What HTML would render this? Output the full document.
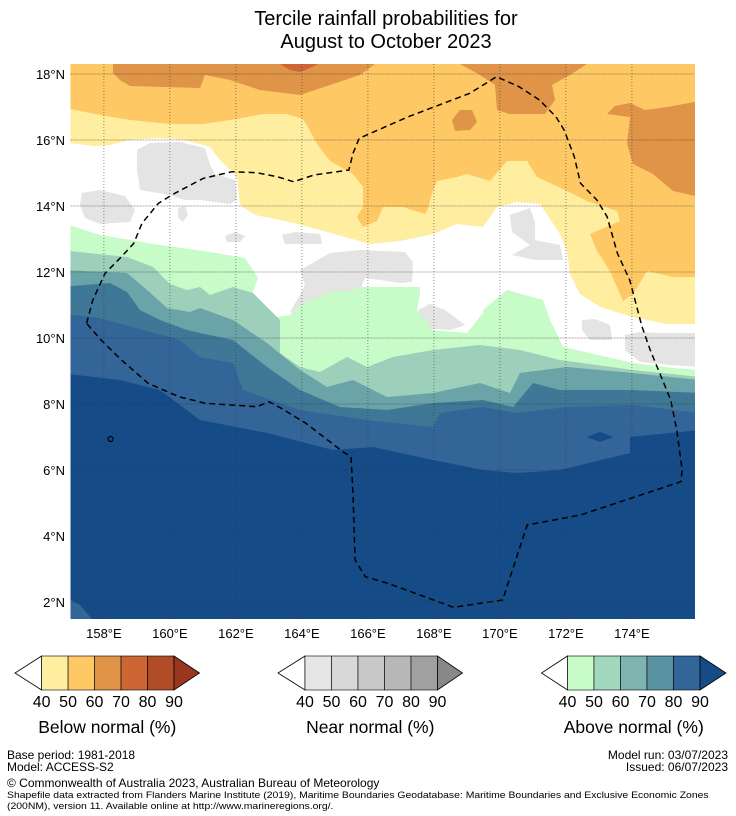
<!DOCTYPE html>
<html><head><meta charset="utf-8">
<style>
body{margin:0;background:#fff;font-family:"Liberation Sans",sans-serif;}
#wrap{position:relative;width:736px;height:816px;overflow:hidden;background:#fff;}
.t{position:absolute;white-space:nowrap;color:#000;}
</style></head>
<body>
<div id="wrap">
<div class="t" style="left:0;width:772px;text-align:center;top:8px;font-size:20px;line-height:23px;">Tercile rainfall probabilities for<br>August to October 2023</div>
<svg id="map" width="736" height="816" style="position:absolute;left:0;top:0">
<defs><clipPath id="clip"><rect x="70.5" y="64" width="624.5" height="555"/></clipPath></defs>
<g id="layers" clip-path="url(#clip)"></g>
<g id="grid"></g>
<g id="labels" font-family="Liberation Sans, sans-serif" font-size="13" fill="#000"></g>
<g id="cbars" font-family="Liberation Sans, sans-serif"></g>
</svg>
<div class="t" style="left:7px;top:748px;font-size:12px;">Base period: 1981-2018</div>
<div class="t" style="left:7px;top:760px;font-size:12px;">Model: ACCESS-S2</div>
<div class="t" style="right:8px;top:748px;font-size:12px;text-align:right;">Model run: 03/07/2023</div>
<div class="t" style="right:8px;top:760px;font-size:12px;text-align:right;">Issued: 06/07/2023</div>
<div class="t" style="left:7px;top:776px;font-size:12px;">© Commonwealth of Australia 2023, Australian Bureau of Meteorology</div>
<div class="t" style="left:7px;top:790px;font-size:9.4px;line-height:10.5px;transform:scaleX(1.11);transform-origin:0 0;">Shapefile data extracted from Flanders Marine Institute (2019), Maritime Boundaries Geodatabase: Maritime Boundaries and Exclusive Economic Zones<br>(200NM), version 11. Available online at http://www.marineregions.org/.</div>
</div>
<script>
// contour band boundaries, map pixel units
const orangeTop=[[113,64],[113,73],[120,80],[130,86],[200,88],[205,75],[230,80],[260,90],[300,95],[330,85],[360,75],[375,64]];
const redTop=[[280,64],[290,70],[300,72],[310,68],[318,64]];
const orangeTR=[[460,64],[480,75],[495,85],[497,110],[510,114],[545,114],[555,100],[552,85],[570,75],[587,64]];
const orangeC=[[452,120],[460,110],[472,110],[477,122],[470,130],[455,131]];
const orangeR=[[607,114],[615,106],[630,103],[645,110],[667,107],[700,101],[700,197],[673,191],[653,174],[633,164],[627,144],[630,117]];
const yellowLine=[[60,107],[100,115],[130,120],[170,124],[203,124],[237,119],[263,114],[287,114],[303,119],[310,131],[317,144],[330,161],[353,174],[363,187],[363,207],[357,217],[363,227],[377,221],[383,207],[403,207],[425,214],[427,211],[433,191],[437,181],[457,177],[467,174],[490,181],[507,161],[527,161],[537,177],[567,191],[587,201],[617,211],[620,221],[590,234],[597,251],[610,271],[623,301],[633,294],[647,271],[673,277],[700,277]];
const whiteLine=[[60,142],[95,146],[110,145],[130,140],[160,138],[185,140],[210,147],[220,160],[235,175],[238,190],[240,205],[255,215],[290,222],[320,230],[345,237],[370,244],[400,241],[433,234],[457,224],[483,227],[497,207],[517,202],[540,204],[560,234],[567,251],[570,274],[580,294],[600,307],[633,317],[667,324],[700,324]];
const greenLine=[[60,222],[100,235],[160,245],[210,252],[245,258],[258,278],[250,300],[270,318],[290,315],[300,305],[330,292],[355,290],[360,287],[420,287],[420,293],[417,310],[433,330],[467,333],[483,313],[483,310],[507,290],[543,300],[550,320],[563,347],[633,363],[673,368],[700,370]];
const teal1Line=[[60,250],[127,257],[153,267],[170,284],[187,290],[200,287],[210,295],[233,287],[253,293],[280,320],[280,353],[300,367],[320,372],[347,357],[367,367],[393,357],[433,350],[480,345],[520,350],[560,360],[633,370],[700,377]];
const teal2Line=[[60,270],[127,273],[147,290],[167,308],[190,312],[200,308],[233,320],[267,343],[300,370],[327,387],[353,380],[387,397],[433,393],[480,383],[510,393],[520,373],[567,367],[633,373],[700,380]];
const blue1Line=[[60,287],[110,283],[127,292],[140,310],[160,320],[187,330],[200,333],[233,340],[267,367],[300,390],[340,407],[387,410],[433,403],[483,400],[513,407],[533,383],[560,390],[633,390],[700,393]];
const blue2Line=[[60,313],[100,318],[143,330],[180,340],[200,357],[233,363],[243,390],[300,410],[367,420],[433,427],[440,413],[483,407],[517,413],[567,407],[633,405],[700,413]];
const darkLine=[[60,373],[120,380],[160,390],[200,420],[267,433],[333,450],[373,447],[433,460],[483,470],[517,473],[560,470],[630,453],[630,437],[700,430]];
const grays=[
 [[82,193],[100,190],[125,196],[135,210],[130,222],[100,224],[85,218],[80,205]],
 [[137,150],[150,143],[180,142],[205,148],[210,165],[215,174],[235,180],[237,200],[230,204],[200,200],[185,200],[170,195],[140,190],[137,170]],
 [[178,208],[185,206],[188,215],[183,222],[178,218]],
 [[225,236],[235,232],[245,236],[240,242],[227,242]],
 [[282,235],[295,232],[320,234],[322,244],[285,244]],
 [[300,270],[330,253],[360,250],[405,252],[413,262],[412,282],[400,283],[365,278],[360,290],[350,300],[330,320],[315,318],[290,312],[300,295],[305,285]],
 [[418,310],[430,304],[445,310],[465,325],[450,330],[425,328]],
 [[510,215],[530,208],[535,222],[535,240],[560,245],[563,260],[535,260],[512,255],[530,245],[512,232]],
 [[582,320],[595,319],[610,325],[612,340],[590,340],[582,330]],
 [[625,335],[640,332],[660,333],[700,333],[700,367],[670,365],[640,362],[625,350]]
];
// EEZ boundary in 1/3-scale grid units
const eez=[[65,790],[80,720],[110,640],[150,590],[180,550],[200,490],[240,430],[280,400],[350,355],[420,335],[480,338],[530,350],[570,365],[620,345],[705,330],[715,280],[730,235],[850,170],[1000,100],[1065,50],[1120,80],[1170,120],[1210,170],[1230,210],[1255,290],[1270,370],[1310,420],[1335,470],[1360,580],[1390,660],[1420,800],[1440,870],[1470,960],[1490,1020],[1505,1110],[1518,1230],[1515,1265],[1270,1365],[1140,1395],[1080,1620],[960,1642],[800,1570],[745,1550],[720,1500],[715,1300],[710,1190],[690,1175],[600,1090],[540,1045],[510,1025],[480,1040],[355,1030],[290,1010],[215,970],[150,900],[100,840],[65,790]];
const lonTicks=[158,160,162,164,166,168,170,172,174];
const latTicks=[2,4,6,8,10,12,14,16,18];

const NS='http://www.w3.org/2000/svg';
function gp(p){return [60+p[0]/2.44, 60+p[1]/3];}
function lonX(lon){return 103.9+(lon-158)*33;}
function latY(lat){return 74+(18-lat)*33;}
function pts(arr,f){return arr.map(p=>(f?f(p):p).map(v=>(+v).toFixed(1)).join(',')).join(' ');}
const layers=document.getElementById('layers');
function poly(arr,fill,name,stroke){
  const e=document.createElementNS(NS,'polygon');
  e.setAttribute('points',pts(arr));
  e.setAttribute('fill',fill);
  if(stroke){e.setAttribute('stroke',stroke);e.setAttribute('stroke-width','5');e.setAttribute('stroke-linejoin','round');}
  
  
  layers.appendChild(e);
}
function band(line,fill,name){ poly(line.concat([[700,640],[60,640]]),fill,name); }
poly([[60,60],[700,60],[700,640],[60,640]],'#fec965','below-50-60-area');
poly(orangeTop,'#df9447','below-60-70-top');
poly(redTop,'#cd6535','below-70-80-patch');
poly(orangeTR,'#df9447','below-60-70-northeast');
poly(orangeC,'#df9447','below-60-70-patch');
poly(orangeR,'#df9447','below-60-70-east');
band(yellowLine,'#ffeda0','below-40-50-band');
band(whiteLine,'#ffffff','no-dominant-band');
grays.forEach((g,i)=>poly(g,'#e4e4e4','near-40-50-halo-'+(i+1),'#ffffff'));
grays.forEach((g,i)=>poly(g,'#e4e4e4','near-40-50-patch-'+(i+1)));
band(greenLine,'#c7fbc8','above-40-50-band');
band(teal1Line,'#9dcfba','above-50-60-band');
band(teal2Line,'#6aa4a8','above-60-70-band');
band(blue1Line,'#3f7896','above-70-80-band');
band(blue2Line,'#336598','above-80-90-band');
band(darkLine,'#154c87','above-90-band');
poly([[587,437],[600,432],[613,437],[600,442]],'#154c87','above-90-patch');
poly([[60,594],[80,605],[92,619],[60,619]],'#336598','above-80-90-corner');
const ez=document.createElementNS(NS,'polyline');
ez.setAttribute('points',pts(eez,gp));
ez.setAttribute('fill','none');ez.setAttribute('stroke','#000');ez.setAttribute('stroke-width','1.5');ez.setAttribute('stroke-dasharray','6,4');


layers.appendChild(ez);
const isl=document.createElementNS(NS,'circle');
isl.setAttribute('cx',110.5);isl.setAttribute('cy',439);isl.setAttribute('r','2.5');isl.setAttribute('fill','none');isl.setAttribute('stroke','#000');isl.setAttribute('stroke-width','1.2');


layers.appendChild(isl);
const grid=document.getElementById('grid'), lab=document.getElementById('labels');
lonTicks.forEach(l=>{
  const x=lonX(l);
  const ln=document.createElementNS(NS,'line');
  ln.setAttribute('x1',x);ln.setAttribute('x2',x);ln.setAttribute('y1',64);ln.setAttribute('y2',619);
  ln.setAttribute('stroke','#333');ln.setAttribute('stroke-opacity','0.7');ln.setAttribute('stroke-width','0.8');ln.setAttribute('stroke-dasharray','1,2');
  
  
  grid.appendChild(ln);
  const t=document.createElementNS(NS,'text');
  t.setAttribute('x',x);t.setAttribute('y',638);t.setAttribute('text-anchor','middle');t.textContent=l+'°E';
  
  
  lab.appendChild(t);
});
latTicks.forEach(l=>{
  const y=latY(l);
  const ln=document.createElementNS(NS,'line');
  ln.setAttribute('x1',70.5);ln.setAttribute('x2',695);ln.setAttribute('y1',y);ln.setAttribute('y2',y);
  ln.setAttribute('stroke','#333');ln.setAttribute('stroke-opacity','0.55');ln.setAttribute('stroke-width','0.8');ln.setAttribute('stroke-dasharray','2,1');
  
  
  grid.appendChild(ln);
  const t=document.createElementNS(NS,'text');
  t.setAttribute('x',65);t.setAttribute('y',y+5);t.setAttribute('text-anchor','end');t.textContent=l+'°N';
  
  
  lab.appendChild(t);
});
const cbTicks=['40','50','60','70','80','90'];
const cbDefs=[
 {name:'below',title:'Below normal (%)',x0:15,left:41.6,right:174,tip:199.5,cols:['#ffeda0','#fec965','#e09447','#cd6535','#b04c27'],tipc:'#9a3520'},
 {name:'near',title:'Near normal (%)',x0:278,left:305,right:437.5,tip:462.5,cols:['#e6e6e6','#d8d8d8','#c8c8c8','#b8b8b8','#a0a0a0'],tipc:'#888888'},
 {name:'above',title:'Above normal (%)',x0:541.5,left:567.5,right:700,tip:726,cols:['#c7fbc8','#a2d8bd','#7fb5b0','#5a94a2','#326598'],tipc:'#154c87'}
];
const cb=document.getElementById('cbars');
cbDefs.forEach(d=>{
  const g=document.createElementNS(NS,'g');
  
  
  cb.appendChild(g);
  const top=656,bot=690,mid=673,w=(d.right-d.left)/5;
  const lt=document.createElementNS(NS,'polygon');
  lt.setAttribute('points',`${d.left},${top} ${d.x0},${mid} ${d.left},${bot}`);lt.setAttribute('fill','#fff');lt.setAttribute('stroke','#000');lt.setAttribute('stroke-width','0.8');
  g.appendChild(lt);
  d.cols.forEach((c,i)=>{
    const r=document.createElementNS(NS,'rect');
    r.setAttribute('x',d.left+i*w);r.setAttribute('y',top);r.setAttribute('width',w);r.setAttribute('height',bot-top);r.setAttribute('fill',c);r.setAttribute('stroke','#000');r.setAttribute('stroke-width','0.6');
    g.appendChild(r);
  });
  const rt=document.createElementNS(NS,'polygon');
  rt.setAttribute('points',`${d.right},${top} ${d.tip},${mid} ${d.right},${bot}`);rt.setAttribute('fill',d.tipc);rt.setAttribute('stroke','#000');rt.setAttribute('stroke-width','0.8');
  g.appendChild(rt);
  cbTicks.forEach((t,i)=>{
    const tx=document.createElementNS(NS,'text');
    tx.setAttribute('x',d.left+i*w);tx.setAttribute('y',707);tx.setAttribute('text-anchor','middle');tx.setAttribute('font-size','16');tx.textContent=t;
    
    
    g.appendChild(tx);
  });
  const tt=document.createElementNS(NS,'text');
  tt.setAttribute('x',(d.x0+d.tip)/2);tt.setAttribute('y',733);tt.setAttribute('text-anchor','middle');tt.setAttribute('font-size','17.5');tt.textContent=d.title;
  
  
  g.appendChild(tt);
});
</script>
</body></html>
